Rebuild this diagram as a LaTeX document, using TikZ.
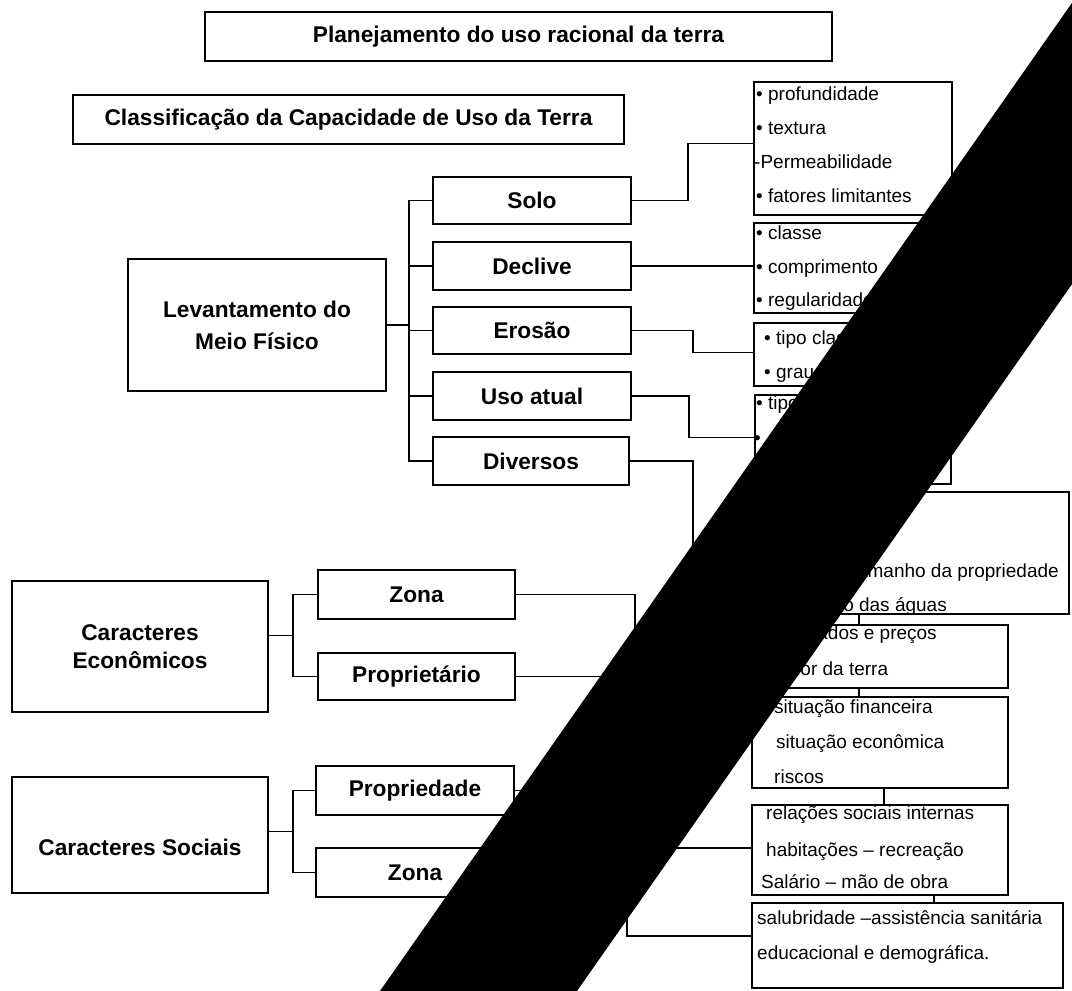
\documentclass[tikz,border=0pt]{standalone}
\usepackage{fontspec}
\setmainfont{Liberation Sans}
\usetikzlibrary{calc}
\tikzset{
  mainbox/.style={draw, line width=1.8pt, inner sep=0pt, align=center,
    font=\fontsize{22.7}{32}\selectfont\bfseries},
  listbox/.style={draw, line width=1.6pt, inner sep=0pt},
  item/.style={anchor=base west, inner sep=0pt, font=\fontsize{19}{23}\selectfont},
  itemr/.style={anchor=base east, inner sep=0pt, font=\fontsize{19}{23}\selectfont},
  conn/.style={line width=1.6pt},
}
\begin{document}
\begin{tikzpicture}[x=1pt,y=-1pt]
\useasboundingbox (0,0) rectangle (1072,991);
\fill[white] (0,0) rectangle (1072,991);

% ---------- top boxes ----------
\node[mainbox, minimum width=627pt, minimum height=49pt] (title) at (518.5,36.5) {Planejamento do uso racional da terra};
\node[mainbox, minimum width=551pt, minimum height=49pt] (classif) at (348.5,119.5) {Classificação da Capacidade de Uso da Terra};

% ---------- physical survey ----------
\node[mainbox, minimum width=258pt, minimum height=132pt] (lev) at (257,325) {Levantamento do\\Meio Físico};
\node[mainbox, minimum width=198pt, minimum height=47pt] (solo) at (532,200.5) {Solo};
\node[mainbox, minimum width=198pt, minimum height=48pt] (declive) at (532,266) {Declive};
\node[mainbox, minimum width=198pt, minimum height=47pt] (erosao) at (532,330.5) {Erosão};
\node[mainbox, minimum width=198pt, minimum height=48pt] (uso) at (532,396) {Uso atual};
\node[mainbox, minimum width=196pt, minimum height=48pt] (diversos) at (531,461) {Diversos};

% ---------- economic ----------
\node[mainbox, minimum width=256pt, minimum height=131pt] (econ) at (140,646.5) {Caracteres\\[-4pt]Econômicos};
\node[mainbox, minimum width=197pt, minimum height=49pt] (zonaE) at (416.5,594.5) {Zona};
\node[mainbox, minimum width=197pt, minimum height=47pt] (prop) at (416.5,676.5) {Proprietário};

% ---------- social ----------
\node[mainbox, minimum width=256pt, minimum height=116pt, text height=40pt, text depth=0pt] (sociais) at (140,835) {Caracteres Sociais};
\node[mainbox, minimum width=198pt, minimum height=49pt] (propried) at (415,790.5) {Propriedade};
\node[mainbox, minimum width=198pt, minimum height=49pt] (zonaS) at (415,872.5) {Zona};

% ---------- right list boxes ----------
\node[listbox, minimum width=198pt, minimum height=133pt] (sololist) at (853,148.5) {};
\node[listbox, minimum width=197pt, minimum height=90pt] (decllist) at (852.5,268) {};
\node[listbox, minimum width=197pt, minimum height=63pt] (erolist) at (852.5,354.5) {};
\node[listbox, minimum width=196pt, minimum height=89pt] (usolist) at (853,439.5) {};
\node[listbox, minimum width=317pt, minimum height=122pt] (biglist) at (910.5,553) {};
\node[listbox, minimum width=256pt, minimum height=63pt] (box2) at (880,656.5) {};
\node[listbox, minimum width=256pt, minimum height=91pt] (box3) at (880,742.5) {};
\node[listbox, minimum width=256pt, minimum height=90pt] (box4) at (880,850) {};
\node[listbox, minimum width=311pt, minimum height=85pt] (box5) at (907.5,945.5) {};

% list texts
\node[item] (s1) at (756,100) {• profundidade};
\node[item] (s2) at (756,134) {• textura};
\node[item] (s3) at (754,168) {-Permeabilidade};
\node[item] (s4) at (756,202) {• fatores limitantes};
\node[item] (d1) at (756,239) {• classe};
\node[item] (d2) at (756,273) {• comprimento};
\node[item] (d3) at (756,306) {• regularidade};
\node[item] (e1) at (764,344) {• tipo classe};
\node[item] (e2) at (764,378) {• grau};
\node[item] (u1) at (756,409) {• tipo};
\node[item] (u2) at (754,444) {•};
\node[itemr] (g1) at (1059,577) {tamanho da propriedade};
\node[itemr] (g2) at (947,611) {situação das águas};
\node[item] (m1) at (775,639) {mercados e preços};
\node[item] (m2) at (776,675) {valor da terra};
\node[item] (f1) at (774,713) {situação financeira};
\node[item] (f2) at (776,748) {situação econômica};
\node[item] (f3) at (774,783) {riscos};
\node[item] (r1) at (766,819) {relações sociais internas};
\node[item] (r2) at (766,856) {habitações – recreação};
\node[item] (r3) at (761,888) {Salário – mão de obra};
\node[item] (h1) at (757,924) {salubridade –assistência sanitária};
\node[item] (h2) at (757,959) {educacional e demográfica.};

% ---------- connectors ----------
\coordinate (b1) at (409,0);
\coordinate (b2) at (293,0);
\coordinate (t1) at (859,0);
\coordinate (t2) at (884,0);
\coordinate (t3) at (934,0);

\draw[conn] (lev.east) -- (lev.east -| b1);
\draw[conn] (solo.west) -- (solo.west -| b1) -- (diversos.west -| b1) -- (diversos.west);
\draw[conn] (declive.west) -- (declive.west -| b1);
\draw[conn] (erosao.west) -- (erosao.west -| b1);
\draw[conn] (uso.west) -- (uso.west -| b1);

\draw[conn] (zonaE.west) -- (zonaE.west -| b2) -- (prop.west -| b2) -- (prop.west);
\coordinate (me) at ($(zonaE.west -| b2)!0.5!(prop.west -| b2)$);
\draw[conn] (econ.east |- me) -- (me);

\draw[conn] (propried.west) -- (propried.west -| b2) -- (zonaS.west -| b2) -- (zonaS.west);
\coordinate (ms) at ($(propried.west -| b2)!0.5!(zonaS.west -| b2)$);
\draw[conn] (sociais.east |- ms) -- (ms);

\draw[conn] (solo.east) -- ++(56,0) |- ([yshift=5pt]sololist.west);
\draw[conn] (declive.east) -- (declive.east -| decllist.west);
\draw[conn] (erosao.east) -- ++(61,0) |- ([yshift=2pt]erolist.west);
\draw[conn] (uso.east) -- ++(57,0) |- ([yshift=2pt]usolist.west);
\draw[conn] (diversos.east) -- ++(63,0) |- (biglist.west);

\draw[conn] (zonaE.east) -- ++(119,0) |- (box2.west);
\draw[conn] (prop.east) -- ++(185,0) |- (box3.west);
\draw[conn] (propried.east) -- ++(136,0) |- ([yshift=2pt]box4.west);
\draw[conn] (zonaS.east) -- ++(112,0) |- ([yshift=9.5pt]box5.west);

\draw[conn] (t1 |- biglist.south) -- (t1 |- box2.north);
\draw[conn] (t1 |- box2.south) -- (t1 |- box3.north);
\draw[conn] (t2 |- box3.south) -- (t2 |- box4.north);
\draw[conn] (t3 |- box4.south) -- (t3 |- box5.north);

% ---------- black diagonal band over the scan ----------
\begin{scope}
\clip (0,0) rectangle (1072,991);
\fill[black] (1074,0) -- (1271,0) -- (577,991) -- (380,991) -- cycle;
\end{scope}
\end{tikzpicture}
\end{document}
